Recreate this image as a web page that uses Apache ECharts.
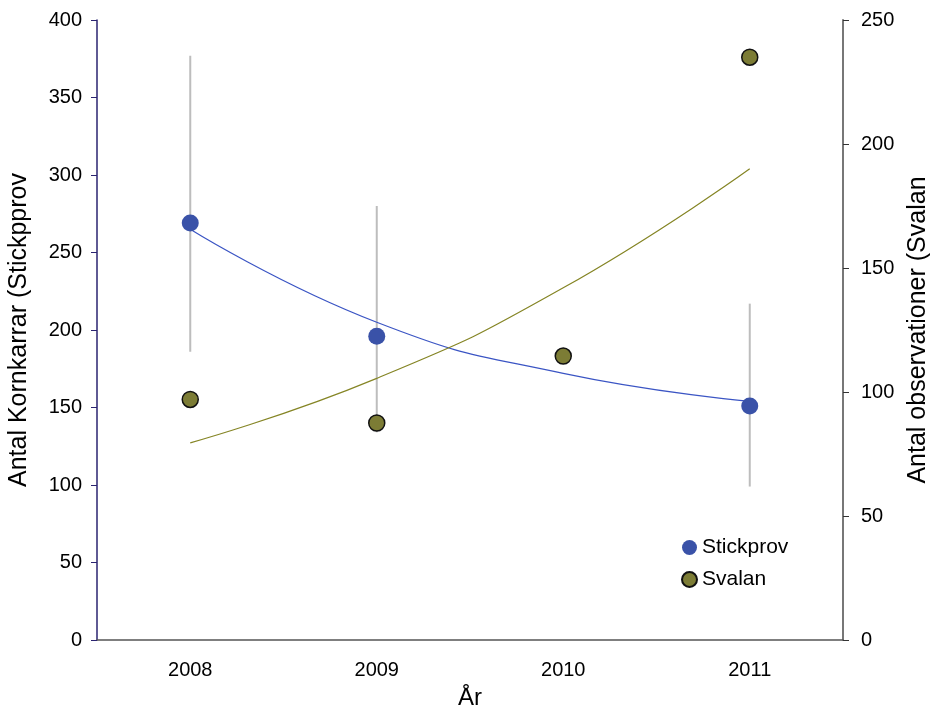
<!DOCTYPE html>
<html>
<head>
<meta charset="utf-8">
<script src="https://cdn.jsdelivr.net/npm/echarts@6/dist/echarts.min.js"></script>
<style>
  html, body { margin: 0; padding: 0; background: #fff; }
  #chart { width: 930px; height: 713px; }
</style>
</head>
<body>
<div id="chart"></div>
<script>
// data
var years = ['2008', '2009', '2010', '2011'];
var stickprov = [269, 196, null, 151];
var stickLow = [186, 134, null, 99];
var stickHigh = [377, 280, null, 217];
var stickTrend = [265, 205, 172, 154];
var svalan = [97, 87.5, 114.5, 235];
var svalanTrend = [79.5, 105.5, 142, 190];

var errData = [];
for (var i = 0; i < years.length; i++) {
    if (stickLow[i] != null) errData.push([i, stickLow[i], stickHigh[i]]);
}

var myChart = echarts.init(document.getElementById('chart'));
var option = {
    animation: false,
    textStyle: { fontFamily: 'Liberation Sans, Arial, sans-serif' },
    grid: { left: 97, right: 87, top: 20, bottom: 73, outerBoundsMode: 'none' },
    legend: {
        data: ['Stickprov', 'Svalan'],
        orient: 'vertical',
        left: 676,
        top: 532,
        icon: 'circle',
        itemWidth: 15,
        itemHeight: 15,
        itemGap: 11,
        textStyle: { fontSize: 21, color: '#000' }
    },
    xAxis: {
        type: 'category',
        data: years,
        boundaryGap: true,
        name: 'År',
        nameLocation: 'middle',
        nameGap: 46,
        nameTextStyle: { fontSize: 24, color: '#000' },
        axisLine: { lineStyle: { color: '#555', width: 1.5 } },
        axisTick: { show: false },
        axisLabel: { fontSize: 20, color: '#000', margin: 20 },
        splitLine: { show: false }
    },
    yAxis: [
        {
            type: 'value',
            min: 0, max: 400, interval: 50,
            name: 'Antal Kornkarrar (Stickpprov',
            nameLocation: 'middle',
            nameRotate: 90,
            nameGap: 65,
            nameTextStyle: { fontSize: 25, color: '#000' },
            axisLine: { show: true, lineStyle: { color: '#2a2370', width: 1.5 } },
            axisTick: { show: true, length: 6, lineStyle: { color: '#2a2370' } },
            axisLabel: { fontSize: 20, color: '#000', margin: 15 },
            splitLine: { show: false }
        },
        {
            type: 'value',
            min: 0, max: 250, interval: 50,
            position: 'right',
            name: 'Antal observationer (Svalan',
            nameLocation: 'middle',
            nameRotate: 90,
            nameGap: 60,
            nameTextStyle: { fontSize: 25, color: '#000' },
            axisLine: { show: true, lineStyle: { color: '#777', width: 2 } },
            axisTick: { show: true, length: 6, lineStyle: { color: '#333' } },
            axisLabel: { fontSize: 20, color: '#000', margin: 18 },
            splitLine: { show: false }
        }
    ],
    series: [
        {
            name: 'errorbars',
            type: 'custom',
            yAxisIndex: 0,
            data: errData,
            z: 1,
            renderItem: function (params, api) {
                var lo = api.coord([api.value(0), api.value(1)]);
                var hi = api.coord([api.value(0), api.value(2)]);
                return {
                    type: 'line',
                    shape: { x1: lo[0], y1: lo[1], x2: hi[0], y2: hi[1] },
                    style: { stroke: '#bdbdbd', lineWidth: 2 }
                };
            }
        },
        {
            name: 'stickTrend',
            type: 'line',
            yAxisIndex: 0,
            data: stickTrend,
            smooth: true,
            showSymbol: false,
            z: 2,
            lineStyle: { color: '#3b55c4', width: 1.2 }
        },
        {
            name: 'svalanTrend',
            type: 'line',
            yAxisIndex: 1,
            data: svalanTrend,
            smooth: true,
            showSymbol: false,
            z: 2,
            lineStyle: { color: '#858525', width: 1.2 }
        },
        {
            name: 'Stickprov',
            type: 'scatter',
            yAxisIndex: 0,
            data: stickprov,
            symbolSize: 17,
            z: 3,
            itemStyle: { color: '#3a52a8', opacity: 1 }
        },
        {
            name: 'Svalan',
            type: 'scatter',
            yAxisIndex: 1,
            data: svalan,
            symbolSize: 16,
            z: 3,
            itemStyle: { color: '#7c7c35', borderColor: '#111', borderWidth: 1.5, opacity: 1 }
        }
    ]
};
myChart.setOption(option);
</script>
</body>
</html>
